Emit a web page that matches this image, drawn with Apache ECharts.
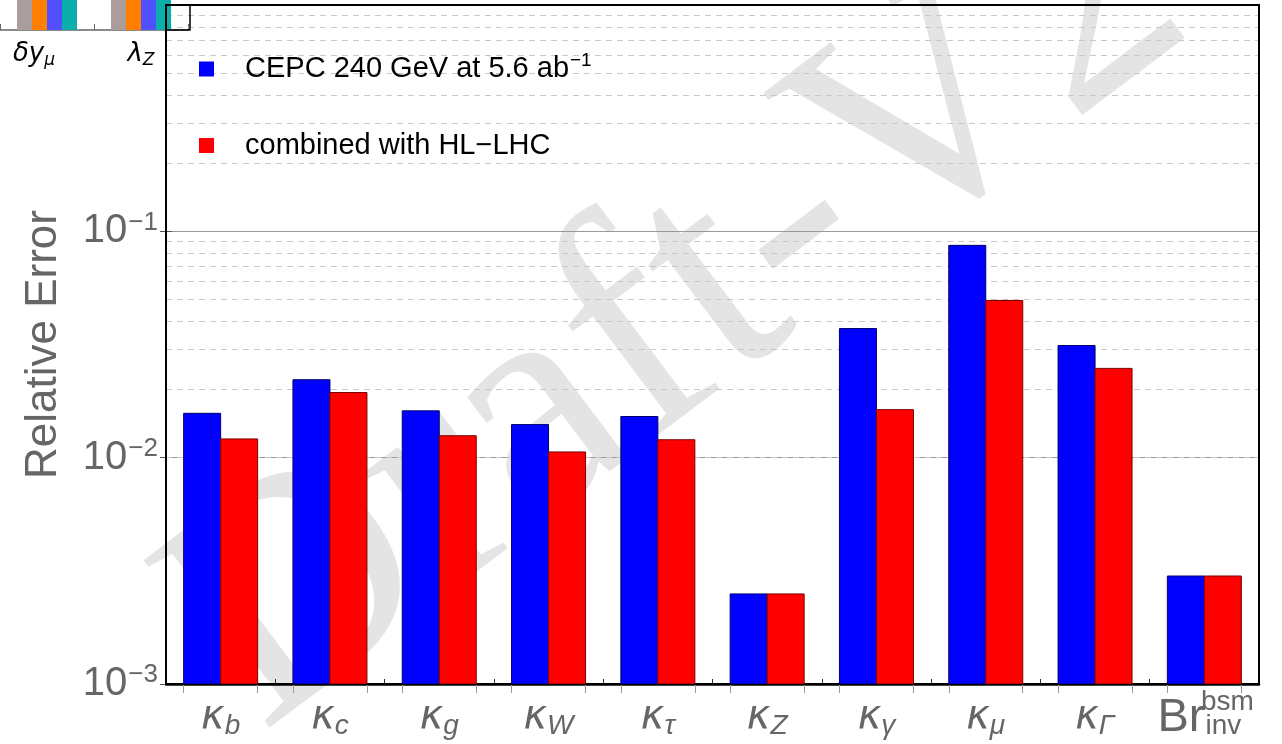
<!DOCTYPE html>
<html><head><meta charset="utf-8">
<script src="https://cdn.jsdelivr.net/npm/echarts@6/dist/echarts.min.js"></script>
<style>html,body{margin:0;padding:0;background:#fff}#c{width:1282px;height:744px}</style>
</head><body><div id="c"></div>
<script>
// ---- data ----
const categories = ['b','c','g','W','τ','Z','γ','μ','Γ','inv'];
const cepcValues = [0.0157, 0.0221, 0.0161, 0.0140, 0.0152, 0.0025, 0.0372, 0.0867, 0.0313, 0.0030];
const combinedValues = [0.0121, 0.0194, 0.0125, 0.0106, 0.0120, 0.0025, 0.0163, 0.0495, 0.0248, 0.0030];
const seriesNames = ['CEPC 240 GeV at 5.6 ab', 'combined with HL\u2212LHC'];
const yMin = 0.001, yMax = 1;
// clipped inset remnant (top-left corner)
const insetCategories = ['δy|μ', 'λ|Z'];
const insetGray = [0.9, 0.9];
const insetOrange = [0.9, 0.9];
const insetBlue = [0.9, 0.9];
const insetTeal = [0.9, 0.9];

const minorGrid = [];
for (let e = -3; e < 0; e++) for (let m = 2; m <= 9; m++) minorGrid.push(+(m * Math.pow(10, e)).toPrecision(3));

const chart = echarts.init(document.getElementById('c'));
const gray = '#666';
const barFrac = 0.3385;

const supMap = {'-1':'\u22121','-2':'\u22122','-3':'\u22123'};

function barRenderer(side, stroke) {
  return function (params, api) {
    const i = api.value(0), v = api.value(1);
    const top = api.coord([i, v]);
    const base = api.coord([i, yMin]);
    let w = api.size([1, 1])[0] * barFrac;
    if (!isFinite(w)) w = 37;
    const x = side === 0 ? top[0] - w : top[0];
    return {
      type: 'rect',
      shape: { x: x, y: top[1], width: w, height: base[1] - top[1] },
      style: Object.assign(api.style(), { stroke: stroke, lineWidth: 1 })
    };
  };
}

const option = {
  animation: false,
  backgroundColor: '#fff',
  graphic: [
    { type: 'text', z: -10, x: 680, y: 313, rotation: 37 * Math.PI / 180,
      style: { text: 'Draft-V2', font: '320px "Liberation Serif"', fill: '#e4e4e4', align: 'center', verticalAlign: 'middle' } },
    { type: 'rect', z: 50, shape: { x: 166, y: 5, width: 24, height: 25 }, style: { fill: 'none', stroke: '#000', lineWidth: 1.5 } }
  ],
  grid: [
    { left: 166, right: 23, top: 5, bottom: 60, show: true, borderColor: '#000', borderWidth: 2, backgroundColor: 'transparent', z: 3 },
    { left: -18, width: 206, top: -20, height: 50 }
  ],
  legend: {
    data: seriesNames, orient: 'vertical', left: 194, top: 46, itemGap: 45,
    icon: 'rect', itemWidth: 15, itemHeight: 15,
    formatter: n => n === seriesNames[0] ? '{t|' + n + '}{sup|\u22121}' : '{t|' + n + '}',
    textStyle: {
      padding: [0, 0, 0, 26],
      rich: {
        t: { fontFamily: 'Liberation Sans', fontSize: 29, color: '#000', lineHeight: 36 },
        sup: { fontFamily: 'Liberation Sans', fontSize: 19, color: '#000', verticalAlign: 'top', lineHeight: 36, padding: [0, 0, 16, 1] }
      }
    }
  },
  xAxis: [
    { type: 'category', gridIndex: 0, data: categories,
      axisLine: { show: false }, axisTick: { show: false },
      axisLabel: { margin: 12, interval: 0,
        formatter: (v) => v === 'inv' ? '{br|Br}{subu|inv}{tail|}' : '{k|κ}{sub|' + v + '}',
        rich: {
          k: { fontFamily: 'DejaVu Sans', fontStyle: 'italic', fontSize: 40, color: gray, lineHeight: 44, verticalAlign: 'middle' },
          br: { fontFamily: 'Liberation Sans', fontSize: 47, color: gray, lineHeight: 44, verticalAlign: 'middle' },
          sub: { fontFamily: 'Liberation Sans', fontStyle: 'italic', fontSize: 28, color: gray, verticalAlign: 'bottom', lineHeight: 44, padding: [16, 0, 0, 0] },
          subu: { fontFamily: 'Liberation Sans', fontSize: 28, color: gray, verticalAlign: 'bottom', lineHeight: 44, padding: [18, 0, 0, 1] },
          tail: { width: 10 }
        } } },
    { type: 'category', gridIndex: 0, data: categories, position: 'bottom',
      axisLine: { show: false }, axisTick: { show: false }, splitLine: { show: false },
      axisLabel: { margin: 4, interval: 0,
        formatter: (v) => v === 'inv' ? '{gap|}{sup|bsm}' : '',
        rich: { gap: { width: 46 }, sup: { fontFamily: 'Liberation Sans', fontSize: 28, color: gray } } } },
    { type: 'value', gridIndex: 0, min: 0, max: categories.length * 3, interval: 1, position: 'bottom',
      axisLine: { show: true, lineStyle: { color: '#000', width: 2.5 } },
      axisTick: { show: true, inside: true, length: 5, lineStyle: { color: '#333', width: 1 } },
      axisLabel: { show: false }, splitLine: { show: false } },
    { type: 'value', gridIndex: 0, min: 0, max: categories.length, position: 'bottom',
      axisLine: { show: false },
      axisTick: { show: true, inside: false, length: 9, lineStyle: { color: '#999', width: 1 },
        customValues: categories.flatMap((c, i) => [i + 0.5 - barFrac, i + 0.5 + barFrac]) },
      axisLabel: { show: false }, splitLine: { show: false } },
    { type: 'category', gridIndex: 1, data: insetCategories,
      axisLine: { lineStyle: { color: '#666', width: 1.5 } },
      axisTick: { show: true, inside: true, length: 6, lineStyle: { color: '#666' } },
      axisLabel: { margin: 10, interval: 0,
        formatter: (v, idx) => { const p = v.split('|'); return '{m|' + p[0] + '}{s|' + p[1] + '}' + (idx === 0 ? '{pad|}' : ''); },
        rich: {
          m: { fontFamily: 'DejaVu Sans', fontStyle: 'italic', fontSize: 26, color: '#000' },
          s: { fontFamily: 'DejaVu Sans', fontStyle: 'italic', fontSize: 17, color: '#000', verticalAlign: 'bottom', padding: [12, 0, 0, 0] },
          pad: { width: 26 }
        } } }
  ],
  yAxis: [
    { type: 'log', logBase: 10, gridIndex: 0, min: yMin, max: yMax,
      name: 'Relative Error', nameLocation: 'middle', nameGap: 100,
      nameTextStyle: { fontFamily: 'Liberation Sans', fontSize: 44, color: gray },
      axisLine: { show: false },
      axisTick: { show: true, inside: true, length: 6, lineStyle: { color: '#555' } },
      axisLabel: { margin: 8,
        formatter: v => { const e = Math.round(Math.log10(v)); return e === 0 ? '' : '{b|10}{s|' + supMap[String(e)] + '}'; },
        rich: {
          b: { fontFamily: 'Liberation Sans', fontSize: 40, color: gray, lineHeight: 44 },
          s: { fontFamily: 'Liberation Sans', fontSize: 26, color: gray, verticalAlign: 'top', padding: [0, 0, 20, 1], lineHeight: 44 }
        } },
      splitLine: { show: true, lineStyle: { color: '#999', width: 1.2 } } },
    { type: 'log', logBase: 10, gridIndex: 0, min: yMin, max: yMax, position: 'right',
      axisLine: { show: false }, axisLabel: { show: false },
      axisTick: { show: true, inside: true, length: 6, lineStyle: { color: '#555' } },
      splitLine: { show: false } },
    { type: 'value', gridIndex: 1, min: 0, max: 0.5, show: false }
  ],
  series: [
    { name: seriesNames[0], type: 'custom', xAxisIndex: 0, yAxisIndex: 0,
      data: cepcValues.map((v, i) => [i, v]), encode: { x: 0, y: 1 },
      renderItem: barRenderer(0, '#00006a'), itemStyle: { color: '#0000ff' }, z: 5, clip: true,
      markLine: { silent: true, symbol: 'none', label: { show: false }, z: 1, animation: false,
        lineStyle: { color: '#c8c8c8', type: [6, 5], width: 1.2 },
        data: minorGrid.map(v => ({ yAxis: v })) } },
    { name: seriesNames[1], type: 'custom', xAxisIndex: 0, yAxisIndex: 0,
      data: combinedValues.map((v, i) => [i, v]), encode: { x: 0, y: 1 },
      renderItem: barRenderer(1, '#7a0000'), itemStyle: { color: '#ff0000' }, z: 5, clip: true },
    { type: 'bar', xAxisIndex: 4, yAxisIndex: 2, data: insetGray, barWidth: 15, barGap: '0%', itemStyle: { color: '#ab9d9b' } },
    { type: 'bar', xAxisIndex: 4, yAxisIndex: 2, data: insetOrange, barWidth: 15, barGap: '0%', itemStyle: { color: '#ff8000' } },
    { type: 'bar', xAxisIndex: 4, yAxisIndex: 2, data: insetBlue, barWidth: 15, barGap: '0%', itemStyle: { color: '#5050ff' } },
    { type: 'bar', xAxisIndex: 4, yAxisIndex: 2, data: insetTeal, barWidth: 15, barGap: '0%', itemStyle: { color: '#0aaeaa' } }
  ]
};
chart.setOption(option);
</script></body></html>
